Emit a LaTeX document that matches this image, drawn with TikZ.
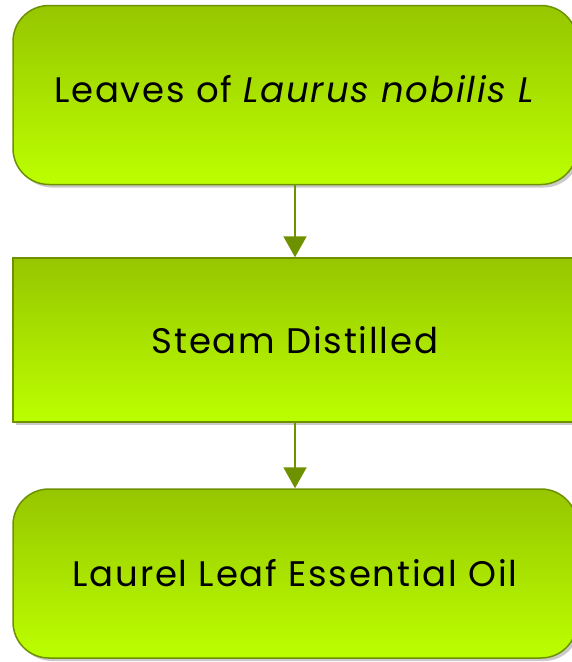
\documentclass[tikz,border=0pt]{standalone}
\usepackage{fontspec}
\setmainfont{Poppins}[LetterSpace=5]
\usetikzlibrary{shadows,arrows.meta}
\definecolor{edgegreen}{RGB}{110,145,0}
\definecolor{topgreen}{RGB}{150,198,0}
\definecolor{botgreen}{RGB}{188,255,0}
\tikzset{
  box/.style={draw=edgegreen, line width=1.5pt, top color=topgreen, bottom color=botgreen,
    minimum width=564pt, inner sep=0pt, font=\fontsize{35.5}{40}\selectfont,
    drop shadow={shadow xshift=3pt, shadow yshift=-3pt, opacity=0.35, fill=black!60}},
  roundbox/.style={box, rounded corners=36pt},
  flow/.style={draw=edgegreen, line width=2pt, -{Triangle[width=23pt,length=21pt]}}
}
\begin{document}
\begin{tikzpicture}[x=1pt,y=-1pt]
\useasboundingbox (0,0) rectangle (571,662);
\node[roundbox, minimum height=179pt] (a) at (295,95) {\raisebox{13pt}{Leaves of \textit{Laurus nobilis L}}};
\node[box, minimum height=164pt] (b) at (295,340) {Steam Distilled};
\node[roundbox, minimum height=169pt] (c) at (295,573.5) {Laurel Leaf Essential Oil};
\draw[flow] (a) -- (b);
\draw[flow] (b) -- (c);
\end{tikzpicture}
\end{document}
